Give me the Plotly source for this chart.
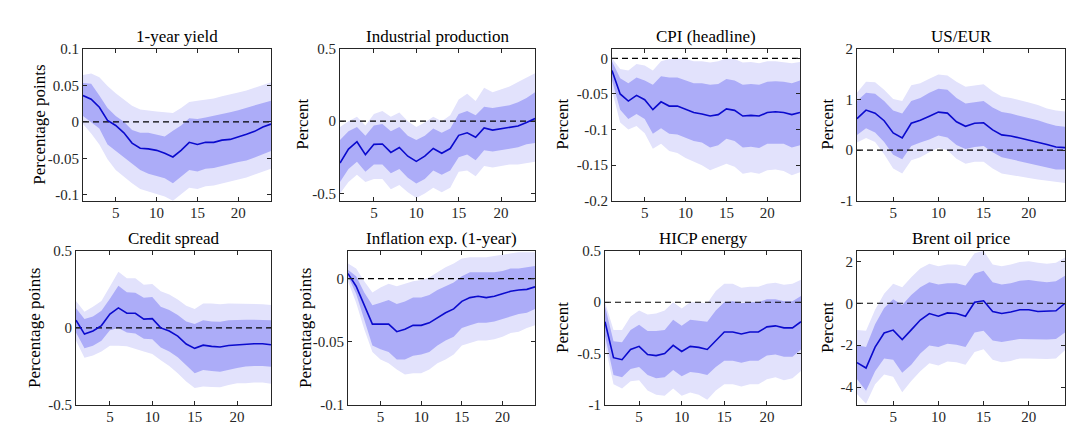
import plotly.graph_objects as go

horizon = list(range(1, 25))

titles = ["1-year yield", "Industrial production", "CPI (headline)", "US/EUR",
          "Credit spread", "Inflation exp. (1-year)", "HICP energy", "Brent oil price"]
ylabels = ["Percentage points", "Percent", "Percent", "Percent",
           "Percentage points", "Percentage points", "Percent", "Percent"]

# 1-year yield
yield_med = [0.036, 0.031, 0.020, 0.002, -0.005, -0.015, -0.029, -0.036, -0.037, -0.039, -0.043, -0.048,
             -0.039, -0.028, -0.031, -0.028, -0.028, -0.025, -0.024, -0.021, -0.017, -0.013, -0.007, -0.003]
yield_in_hi = [0.053, 0.052, 0.036, 0.019, 0.008, 0.0, -0.011, -0.015, -0.015, -0.017, -0.020, -0.012,
               -0.005, 0.005, 0.004, 0.006, 0.008, 0.010, 0.013, 0.016, 0.019, 0.022, 0.026, 0.029]
yield_in_lo = [0.008, 0.0, -0.009, -0.031, -0.040, -0.049, -0.057, -0.066, -0.071, -0.074, -0.077, -0.084,
               -0.075, -0.066, -0.068, -0.064, -0.063, -0.061, -0.058, -0.055, -0.053, -0.049, -0.044, -0.040]
yield_out_hi = [0.064, 0.066, 0.061, 0.049, 0.039, 0.031, 0.022, 0.017, 0.015, 0.014, 0.013, 0.012,
                0.019, 0.027, 0.029, 0.030, 0.032, 0.035, 0.037, 0.040, 0.043, 0.047, 0.050, 0.054]
yield_out_lo = [-0.003, -0.016, -0.031, -0.051, -0.066, -0.075, -0.084, -0.092, -0.096, -0.099, -0.102, -0.108,
                -0.099, -0.090, -0.092, -0.088, -0.087, -0.085, -0.082, -0.079, -0.076, -0.073, -0.068, -0.064]

# Industrial production
ip_med = [-0.289, -0.193, -0.142, -0.231, -0.160, -0.158, -0.216, -0.182, -0.242, -0.278, -0.242, -0.189,
          -0.222, -0.189, -0.098, -0.080, -0.111, -0.047, -0.062, -0.053, -0.047, -0.033, -0.009, 0.018]
ip_in_hi = [-0.13, -0.07, -0.04, -0.10, -0.03, -0.02, -0.07, -0.04, -0.10, -0.13, -0.10, -0.05,
            -0.08, -0.05, 0.05, 0.07, 0.04, 0.10, 0.09, 0.10, 0.11, 0.13, 0.16, 0.20]
ip_in_lo = [-0.42, -0.33, -0.28, -0.35, -0.30, -0.30, -0.36, -0.33, -0.39, -0.43, -0.40, -0.34,
            -0.37, -0.34, -0.25, -0.23, -0.27, -0.20, -0.21, -0.20, -0.19, -0.18, -0.16, -0.15]
ip_out_hi = [-0.04, 0.0, 0.03, -0.03, 0.05, 0.07, 0.03, 0.06, 0.0, -0.04, -0.01, 0.03,
             0.0, 0.04, 0.15, 0.19, 0.14, 0.23, 0.20, 0.22, 0.24, 0.27, 0.30, 0.33]
ip_out_lo = [-0.50, -0.42, -0.37, -0.42, -0.40, -0.40, -0.47, -0.44, -0.49, -0.53, -0.50, -0.46,
             -0.49, -0.46, -0.35, -0.34, -0.38, -0.31, -0.32, -0.31, -0.30, -0.30, -0.29, -0.28]

# CPI (headline)
cpi_med = [-0.017, -0.050, -0.060, -0.052, -0.058, -0.072, -0.061, -0.067, -0.067, -0.071, -0.076, -0.078,
           -0.081, -0.079, -0.071, -0.073, -0.081, -0.080, -0.081, -0.076, -0.075, -0.076, -0.079, -0.076]
cpi_in_hi = [-0.004, -0.028, -0.035, -0.027, -0.031, -0.037, -0.025, -0.027, -0.027, -0.031, -0.035, -0.035,
             -0.037, -0.036, -0.029, -0.031, -0.037, -0.036, -0.037, -0.033, -0.032, -0.033, -0.035, -0.031]
cpi_in_lo = [-0.031, -0.072, -0.085, -0.078, -0.085, -0.106, -0.098, -0.106, -0.107, -0.111, -0.116, -0.118,
             -0.125, -0.122, -0.113, -0.116, -0.125, -0.124, -0.126, -0.120, -0.120, -0.120, -0.125, -0.122]
cpi_out_hi = [0.0, -0.015, -0.017, -0.008, -0.010, -0.017, -0.004, -0.001, 0.0, -0.001, -0.004, -0.004,
              -0.006, -0.004, 0.0, -0.001, -0.006, -0.005, -0.007, -0.004, -0.004, -0.005, -0.007, -0.005]
cpi_out_lo = [-0.045, -0.090, -0.100, -0.095, -0.105, -0.127, -0.120, -0.130, -0.133, -0.140, -0.145, -0.150,
              -0.157, -0.153, -0.148, -0.152, -0.162, -0.160, -0.162, -0.157, -0.156, -0.158, -0.164, -0.160]

# US/EUR
fx_med = [0.62, 0.79, 0.73, 0.58, 0.34, 0.24, 0.53, 0.59, 0.67, 0.75, 0.73, 0.56,
          0.47, 0.53, 0.54, 0.40, 0.30, 0.28, 0.24, 0.20, 0.16, 0.11, 0.06, 0.05]
fx_in_hi = [0.97, 1.13, 1.11, 0.97, 0.78, 0.72, 0.97, 1.03, 1.13, 1.21, 1.19, 1.03,
            0.92, 0.95, 0.97, 0.84, 0.75, 0.72, 0.68, 0.63, 0.59, 0.53, 0.48, 0.46]
fx_in_lo = [0.30, 0.43, 0.35, 0.16, -0.09, -0.18, 0.08, 0.15, 0.21, 0.29, 0.25, 0.10,
            0.02, 0.06, 0.08, -0.04, -0.14, -0.17, -0.22, -0.25, -0.30, -0.34, -0.38, -0.38]
fx_out_hi = [1.13, 1.35, 1.34, 1.19, 1.01, 0.97, 1.28, 1.32, 1.41, 1.49, 1.47, 1.35,
             1.25, 1.28, 1.30, 1.16, 1.06, 1.03, 0.99, 0.94, 0.89, 0.82, 0.78, 0.76]
fx_out_lo = [0.15, 0.24, 0.16, -0.08, -0.36, -0.46, -0.20, -0.14, -0.04, 0.04, 0.0, -0.17,
             -0.27, -0.23, -0.23, -0.36, -0.46, -0.49, -0.52, -0.55, -0.58, -0.60, -0.63, -0.65]

# Credit spread
cs_med = [0.05, -0.04, -0.02, 0.015, 0.09, 0.13, 0.095, 0.095, 0.057, 0.06, 0.0, -0.02,
          -0.053, -0.105, -0.133, -0.112, -0.12, -0.124, -0.114, -0.11, -0.105, -0.103, -0.103, -0.11]
cs_in_hi = [0.127, 0.057, 0.074, 0.112, 0.19, 0.274, 0.232, 0.228, 0.196, 0.20, 0.137, 0.116,
            0.084, 0.042, 0.025, 0.049, 0.042, 0.04, 0.049, 0.053, 0.053, 0.053, 0.053, 0.049]
cs_in_lo = [-0.03, -0.133, -0.116, -0.084, -0.015, 0.0, -0.03, -0.036, -0.07, -0.074, -0.127, -0.154,
            -0.19, -0.243, -0.295, -0.274, -0.28, -0.285, -0.274, -0.26, -0.25, -0.247, -0.247, -0.253]
cs_out_hi = [0.175, 0.105, 0.137, 0.175, 0.268, 0.365, 0.323, 0.323, 0.28, 0.285, 0.238, 0.217,
             0.184, 0.143, 0.122, 0.158, 0.158, 0.154, 0.158, 0.158, 0.158, 0.154, 0.154, 0.148]
cs_out_lo = [-0.084, -0.194, -0.18, -0.154, -0.116, -0.116, -0.12, -0.137, -0.154, -0.17, -0.21, -0.247,
             -0.295, -0.348, -0.39, -0.38, -0.384, -0.386, -0.37, -0.36, -0.36, -0.354, -0.354, -0.363]

# Inflation expectations (1-year)
ie_med = [0.004, -0.006, -0.021, -0.036, -0.036, -0.036, -0.042, -0.040, -0.037, -0.037, -0.035, -0.031,
          -0.027, -0.024, -0.018, -0.015, -0.014, -0.015, -0.014, -0.012, -0.010, -0.009, -0.0085, -0.0065]
ie_in_hi = [0.007, 0.002, -0.011, -0.021, -0.019, -0.017, -0.020, -0.018, -0.015, -0.015, -0.013, -0.009,
            -0.006, -0.003, 0.002, 0.005, 0.005, 0.005, 0.005, 0.006, 0.008, 0.008, 0.009, 0.010]
ie_in_lo = [0.002, -0.012, -0.033, -0.053, -0.056, -0.058, -0.064, -0.064, -0.061, -0.060, -0.058, -0.053,
            -0.049, -0.046, -0.039, -0.037, -0.035, -0.035, -0.034, -0.032, -0.030, -0.028, -0.027, -0.024]
ie_out_hi = [0.012, 0.008, -0.002, -0.011, -0.007, -0.004, -0.006, -0.004, -0.002, -0.001, 0.001, 0.005,
             0.009, 0.012, 0.016, 0.017, 0.017, 0.017, 0.018, 0.019, 0.020, 0.021, 0.021, 0.021]
ie_out_lo = [-0.002, -0.019, -0.040, -0.058, -0.064, -0.067, -0.072, -0.076, -0.075, -0.075, -0.072, -0.067,
             -0.064, -0.060, -0.053, -0.051, -0.049, -0.049, -0.048, -0.046, -0.043, -0.042, -0.039, -0.037]

# HICP energy
he_med = [-0.19, -0.54, -0.56, -0.46, -0.43, -0.51, -0.52, -0.50, -0.42, -0.48, -0.43, -0.44,
          -0.46, -0.37, -0.29, -0.29, -0.31, -0.29, -0.29, -0.24, -0.23, -0.25, -0.25, -0.19]
he_in_hi = [-0.04, -0.38, -0.39, -0.27, -0.22, -0.28, -0.28, -0.27, -0.17, -0.23, -0.17, -0.18,
            -0.19, -0.08, 0.0, 0.01, -0.01, 0.0, 0.0, 0.03, 0.03, 0.01, 0.01, 0.06]
he_in_lo = [-0.33, -0.71, -0.73, -0.65, -0.63, -0.71, -0.74, -0.73, -0.66, -0.72, -0.68, -0.69,
            -0.71, -0.63, -0.57, -0.57, -0.59, -0.57, -0.57, -0.52, -0.51, -0.53, -0.53, -0.46]
he_out_hi = [0.0, -0.27, -0.27, -0.14, -0.08, -0.12, -0.11, -0.08, 0.0, -0.06, 0.0, 0.0,
             -0.01, 0.11, 0.18, 0.18, 0.14, 0.15, 0.15, 0.18, 0.19, 0.17, 0.18, 0.22]
he_out_lo = [-0.42, -0.80, -0.84, -0.77, -0.76, -0.86, -0.90, -0.91, -0.84, -0.91, -0.88, -0.90,
             -0.95, -0.86, -0.80, -0.80, -0.82, -0.80, -0.80, -0.75, -0.73, -0.76, -0.74, -0.67]

# Brent oil price
oil_med = [-2.83, -3.09, -2.09, -1.42, -1.28, -1.73, -1.27, -0.80, -0.49, -0.62, -0.46, -0.49,
           -0.62, 0.05, 0.12, -0.39, -0.49, -0.42, -0.31, -0.31, -0.39, -0.37, -0.36, 0.0]
oil_in_hi = [-2.0, -2.09, -1.0, -0.23, 0.19, -0.08, 0.39, 0.77, 1.0, 0.89, 0.95, 0.95,
             0.85, 1.42, 1.55, 1.0, 0.89, 0.95, 1.08, 1.11, 1.05, 1.0, 1.05, 1.31]
oil_in_lo = [-3.63, -4.17, -3.25, -2.63, -2.70, -3.32, -2.94, -2.40, -2.01, -2.09, -1.93, -1.98,
             -2.09, -1.39, -1.31, -1.78, -1.85, -1.78, -1.70, -1.70, -1.73, -1.73, -1.70, -1.39]
oil_out_hi = [-1.27, -1.31, -0.31, 0.46, 0.93, 0.77, 1.24, 1.66, 1.88, 1.77, 1.85, 1.85,
              1.77, 2.39, 2.5, 1.85, 1.77, 1.85, 1.97, 2.0, 1.93, 1.88, 1.93, 2.19]
oil_out_lo = [-4.33, -4.8, -3.87, -3.40, -3.51, -4.25, -3.71, -3.25, -2.86, -2.97, -2.78, -2.81,
              -2.94, -2.32, -2.19, -2.70, -2.81, -2.75, -2.63, -2.63, -2.63, -2.66, -2.63, -2.24]

panels = [
    (yield_med, yield_in_lo, yield_in_hi, yield_out_lo, yield_out_hi),
    (ip_med, ip_in_lo, ip_in_hi, ip_out_lo, ip_out_hi),
    (cpi_med, cpi_in_lo, cpi_in_hi, cpi_out_lo, cpi_out_hi),
    (fx_med, fx_in_lo, fx_in_hi, fx_out_lo, fx_out_hi),
    (cs_med, cs_in_lo, cs_in_hi, cs_out_lo, cs_out_hi),
    (ie_med, ie_in_lo, ie_in_hi, ie_out_lo, ie_out_hi),
    (he_med, he_in_lo, he_in_hi, he_out_lo, he_out_hi),
    (oil_med, oil_in_lo, oil_in_hi, oil_out_lo, oil_out_hi),
]

xticks = [5, 10, 15, 20]
ytick_vals = [
    [-0.1, -0.05, 0, 0.05, 0.1],
    [-0.5, 0, 0.5],
    [-0.2, -0.15, -0.1, -0.05, 0],
    [-1, 0, 1, 2],
    [-0.5, 0, 0.5],
    [-0.1, -0.05, 0],
    [-1, -0.5, 0, 0.5],
    [-4, -2, 0, 2],
]
ytick_text = [
    ["-0.1", "-0.05", "0", "0.05", "0.1"],
    ["-0.5", "0", "0.5"],
    ["-0.2", "-0.15", "-0.1", "-0.05", "0"],
    ["-1", "0", "1", "2"],
    ["-0.5", "0", "0.5"],
    ["-0.1", "-0.05", "0"],
    ["-1", "-0.5", "0", "0.5"],
    ["-4", "-2", "0", "2"],
]
yranges = [[-0.108, 0.1], [-0.55, 0.5], [-0.2, 0.0135], [-1, 2],
           [-0.5, 0.5], [-0.1, 0.022], [-1, 0.5], [-4.85, 2.5]]

W, H = 1074, 428
# pixel geometry of plot areas (left, right, top, bottom)
boxes = [(75, 263, 34, 192), (332, 527, 34, 192), (604, 792, 34, 192), (849, 1057, 34, 192),
         (68, 263, 244, 404), (340, 527, 244, 404), (597, 793, 244, 404), (849, 1057, 244, 404)]
ylabel_x = [32, 295, 555, 820, 27, 298, 555, 820]

OUTER = "rgb(226,226,252)"
INNER = "rgb(172,172,248)"
LINE = "rgb(10,10,205)"
AX = "#262626"
FONT = "Liberation Serif"

fig = go.Figure()
layout = dict(width=W, height=H, margin=dict(l=0, r=0, t=0, b=0),
              plot_bgcolor="white", paper_bgcolor="white", showlegend=False,
              font=dict(family=FONT, color="black"))
annotations = []

for i, (med, ilo, ihi, olo, ohi) in enumerate(panels):
    n = i + 1
    xa = "x" if n == 1 else f"x{n}"
    ya = "y" if n == 1 else f"y{n}"
    rev = horizon[::-1]
    fig.add_trace(go.Scatter(x=horizon + rev, y=ohi + olo[::-1], fill="toself", fillcolor=OUTER,
                             line=dict(width=0), mode="lines", hoverinfo="skip", xaxis=xa, yaxis=ya))
    fig.add_trace(go.Scatter(x=horizon + rev, y=ihi + ilo[::-1], fill="toself", fillcolor=INNER,
                             line=dict(width=0), mode="lines", hoverinfo="skip", xaxis=xa, yaxis=ya))
    fig.add_trace(go.Scatter(x=[horizon[0], horizon[-1]], y=[0, 0], mode="lines",
                             line=dict(color="black", width=1.1, dash="6px,4px"), xaxis=xa, yaxis=ya))
    fig.add_trace(go.Scatter(x=horizon, y=med, mode="lines", line=dict(color=LINE, width=1.6),
                             xaxis=xa, yaxis=ya))

    l, r, t, b = boxes[i]
    common = dict(showline=True, linecolor=AX, linewidth=1, mirror="allticks", ticks="inside",
                  ticklen=4, tickcolor=AX, tickwidth=1, showgrid=False, zeroline=False,
                  tickfont=dict(family=FONT, size=15, color=AX))
    layout["xaxis" if n == 1 else f"xaxis{n}"] = dict(
        domain=[l / W, r / W], range=[horizon[0], horizon[-1]], tickvals=xticks,
        anchor=ya, ticklabelstandoff=-2, **common)
    layout["yaxis" if n == 1 else f"yaxis{n}"] = dict(
        domain=[1 - b / H, 1 - t / H], range=yranges[i], tickvals=ytick_vals[i],
        ticktext=ytick_text[i], anchor=xa, **common)

    annotations.append(dict(text=titles[i], xref="paper", yref="paper", x=(l + r) / 2 / W,
                            y=1 - (t - 13) / H, xanchor="center", yanchor="middle", showarrow=False,
                            font=dict(family=FONT, size=17, color="black")))
    annotations.append(dict(text=ylabels[i], xref="paper", yref="paper", x=ylabel_x[i] / W,
                            y=1 - (t + b) / 2 / H, xanchor="center", yanchor="middle", textangle=-90,
                            showarrow=False, font=dict(family=FONT, size=17, color="black")))

layout["annotations"] = annotations
fig.update_layout(**layout)
fig.write_html("out.html")
